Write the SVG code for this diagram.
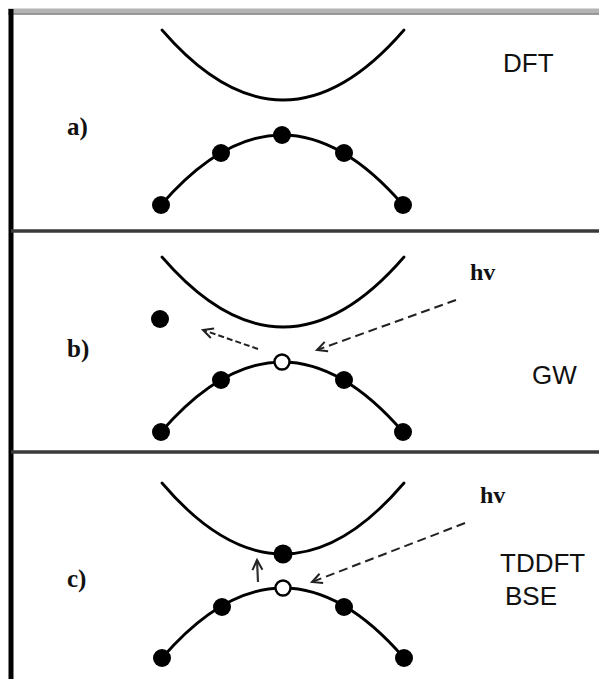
<svg xmlns="http://www.w3.org/2000/svg" width="599" height="679" viewBox="0 0 599 679">
<defs>
<style>
.band{fill:none;stroke:#000;stroke-width:2.8;stroke-linecap:round}
.dot{fill:#000}
.hole{fill:#fff;stroke:#000;stroke-width:2.4}
.lbl{font-family:"Liberation Serif","Times New Roman",serif;font-weight:bold;font-size:25px;fill:#111}
.hv{font-family:"Liberation Serif","Times New Roman",serif;font-weight:bold;font-size:24px;fill:#111}
.meth{font-family:"Liberation Sans",Arial,sans-serif;font-size:26px;fill:#111}
.dash{fill:none;stroke:#222;stroke-width:2;stroke-dasharray:9,5}
.sdash{fill:none;stroke:#222;stroke-width:2;stroke-dasharray:6,3}
.solid{fill:none;stroke:#333;stroke-width:2.2}
</style>
<marker id="ah" markerUnits="userSpaceOnUse" markerWidth="14" markerHeight="14" refX="11" refY="6" orient="auto">
<path d="M1,1 L11,6 L1,11" fill="none" stroke="#222" stroke-width="2"/>
</marker>
</defs>
<rect width="599" height="679" fill="#fff"/>
<g id="frame">
<line x1="8" y1="11.5" x2="599" y2="11.5" stroke="#b4b4b4" stroke-width="6"/>
<line x1="8" y1="14" x2="599" y2="14" stroke="#888" stroke-width="1.5"/>
<line x1="11" y1="9" x2="11" y2="679" stroke="#000" stroke-width="5"/>
<line x1="11" y1="231" x2="599" y2="231" stroke="#3a3a3a" stroke-width="3.5"/>
<line x1="11" y1="452" x2="599" y2="452" stroke="#3a3a3a" stroke-width="3.5"/>
</g>
<g id="panel-a">
<path class="band" d="M162,30 Q283,170 404,30"/>
<path class="band" d="M161,205 Q282,65 403,205"/>
<circle class="dot" cx="161" cy="205" r="9"/>
<circle class="dot" cx="221" cy="153" r="9"/>
<circle class="dot" cx="282" cy="135" r="9"/>
<circle class="dot" cx="344" cy="153" r="9"/>
<circle class="dot" cx="403" cy="205" r="9"/>
<text class="lbl" x="67" y="135">a)</text>
<text class="meth" x="503" y="72">DFT</text>
</g>
<g id="panel-b">
<path class="band" d="M162,257 Q283,397 404,257"/>
<path class="band" d="M161,432 Q282,292 403,432"/>
<circle class="dot" cx="160" cy="319" r="9"/>
<circle class="dot" cx="161" cy="432" r="9"/>
<circle class="dot" cx="221" cy="380" r="9"/>
<circle class="dot" cx="344" cy="380" r="9"/>
<circle class="dot" cx="403" cy="432" r="9"/>
<circle class="hole" cx="282" cy="362" r="7.5"/>
<text class="lbl" x="67" y="357">b)</text>
<text class="hv" x="470" y="280">hv</text>
<text class="meth" x="532" y="384">GW</text>
</g>
<g id="panel-c">
<path class="band" d="M162,483 Q283,625 404,483"/>
<path class="band" d="M162,658 Q283,518 404,658"/>
<circle class="dot" cx="283" cy="554" r="9.5"/>
<circle class="dot" cx="162" cy="658" r="9"/>
<circle class="dot" cx="222" cy="607" r="9"/>
<circle class="dot" cx="344" cy="607" r="9"/>
<circle class="dot" cx="404" cy="658" r="9"/>
<circle class="hole" cx="283" cy="588" r="7.5"/>
<text class="lbl" x="67" y="587">c)</text>
<text class="hv" x="480" y="503">hv</text>
<text class="meth" x="500" y="572">TDDFT</text>
<text class="meth" x="505" y="605">BSE</text>
</g>
<g id="connectors">
<line class="dash" x1="456" y1="300" x2="317" y2="350" marker-end="url(#ah)"/>
<line class="sdash" x1="258" y1="349" x2="203" y2="330" marker-end="url(#ah)"/>
<line class="dash" x1="465" y1="523" x2="312" y2="582" marker-end="url(#ah)"/>
<line class="solid" x1="258" y1="582" x2="257" y2="560" marker-end="url(#ah)"/>
</g>
</svg>
